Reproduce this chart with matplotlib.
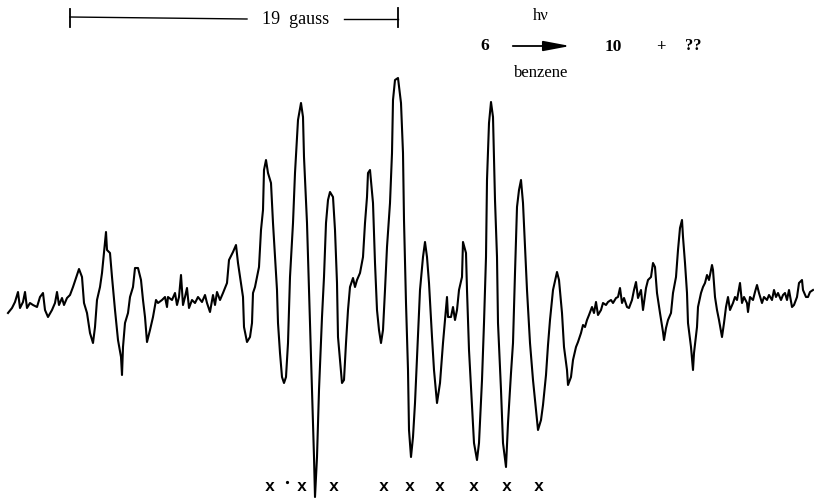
import matplotlib
matplotlib.use("Agg")
import matplotlib.pyplot as plt
import numpy as np

# ESR trace: field position (arbitrary units) and signal (arbitrary units)
field_a = [8,12,15,18,20,23,25,27,30,33,37,40,43,45,48,52,55,57,59,62,64,67,70,73,77,79,82,84,87,90,93,95,97,100,102,104,106,107,110,112,115,118,121,122]
signal_a = [-13,-8,-2,8,-8,-2,8,-8,-3,-5,-7,3,7,-10,-17,-10,-3,8,-5,2,-5,2,5,13,25,31,23,-3,-13,-33,-43,-27,0,13,27,47,68,50,47,23,-10,-40,-57,-75]

field_b = [123,125,128,130,133,135,138,141,143,145,147,150,153,156,158,162,165,167,168,172,175,177,179,181,183,185,187,189,192,195,198,202,205,207,210,213,215,217,220,223,227,229,233,236]
signal_b = [-47,-23,-13,3,13,32,32,20,0,-17,-42,-30,-17,0,-3,0,3,-7,3,0,7,-5,3,25,-5,3,12,-8,0,-3,3,-2,5,-3,-12,5,-5,8,0,7,17,40,48,55]

field_c = [238,241,243,244,247,250,252,253,255,257,259,261,263,264,266,268,271,273,275,277,278,280,282,284,286,288,290,293,295,298,301,303,304,307,309,311,313,314,315,317,319,322,324,326,328,330,333,335,337]
signal_c = [37,17,3,-27,-42,-37,-23,7,13,23,33,70,90,130,140,127,117,77,43,10,-23,-53,-77,-83,-77,-43,23,77,127,180,197,183,143,77,10,-57,-123,-157,-197,-157,-90,-17,23,77,100,108,103,70,17]

field_d = [338,340,342,344,346,348,350,353,355,357,360,363,365,367,368,370,373,375,377,379,381,383,385,387,390,392,393,395,398,401,403,404,406,408,409,411,413,415,417,420,423,425,427,429,432,434]
signal_d = [-37,-60,-83,-80,-43,-10,13,22,13,20,27,43,77,103,127,130,97,37,-10,-30,-43,-30,10,53,97,147,200,220,222,197,147,80,-3,-70,-130,-157,-137,-103,-57,10,43,58,43,17,-37,-70]

field_e = [437,440,443,445,447,448,451,453,455,457,459,462,463,466,467,469,472,474,477,479,482,484,486,487,489,491,493,494,495,497,498,501,503,506,508,511,513,515,517,519,521,523,525,527,530,533,536,538,541,543,546,548,550]
signal_e = [-103,-83,-43,-20,3,-17,-17,-7,-20,-10,10,23,58,47,10,-50,-107,-143,-160,-143,-80,-23,43,120,177,198,183,143,100,43,-23,-90,-143,-167,-123,-73,-43,27,93,110,120,97,53,10,-43,-80,-110,-130,-120,-105,-75,-45,-20]

field_f = [553,557,559,562,564,567,568,571,573,576,578,581,583,585,587,589,592,594,596,598,601,603,606,608,611,613,616,618,620,622,624,627,629,632,634,636,638,641,643,646,648,651,653,655,657,660,663,664,666,668,671,673,676,678,680]
signal_f = [10,28,20,-13,-47,-70,-85,-77,-60,-47,-42,-33,-25,-27,-20,-15,-7,-13,-2,-15,-10,-3,-5,-2,0,-3,2,3,12,-3,2,-7,-8,0,10,18,2,10,-10,12,20,23,37,33,7,-13,-32,-40,-28,-20,-13,7,23,50,72]

field_g = [682,683,685,687,688,691,693,694,697,698,701,703,705,707,709,712,713,715,717,719,722,724,726,728,730,733,735,737,740,742,744,747,748,750,753,755,757,759,762,764,767,769,772,774,776,778,781,783,785,787,789,792,794,797,799,802,803,806,808,810,813]
signal_g = [80,63,37,7,-23,-47,-70,-53,-27,-7,7,13,17,25,20,35,30,3,-10,-20,-37,-23,-7,3,-10,-3,3,0,17,-3,3,-3,-12,3,0,8,15,7,-3,3,0,5,0,10,3,7,0,5,7,0,10,-7,-5,3,17,20,10,3,3,8,10]

field = field_a + field_b + field_c + field_d + field_e + field_f + field_g
signal = signal_a + signal_b + signal_c + signal_d + signal_e + signal_f + signal_g

# positions of the "x" markers under the spectrum
marker_x = [270, 302, 334, 384, 410, 440, 474, 507, 539]

W, H = 814, 498
fig = plt.figure(figsize=(W / 100, H / 100), dpi=100)
fig.patch.set_facecolor("white")

ax = fig.add_axes([0, 0, 1, 1])
ax.plot(field, signal, color="black", lw=1.5, solid_joinstyle="round")
ax.set_xlim(0, W)
ax.set_ylim(300 - H, 300)
ax.axis("off")

# overlay for labels (page coordinates)
ov = fig.add_axes([0, 0, 1, 1], facecolor="none")
ov.set_xlim(0, W)
ov.set_ylim(H, 0)
ov.axis("off")

serif = "Liberation Serif"
# scale bar
ov.plot([70, 247], [17, 19], color="black", lw=1.0)
ov.plot([344, 398], [19, 19], color="black", lw=1.0)
ov.plot([70, 70], [9, 27], color="black", lw=1.3)
ov.plot([398, 398], [8, 27], color="black", lw=1.3)
ov.text(296, 19, "19  gauss", family=serif, fontsize=13, ha="center", va="center")

# reaction scheme
ov.text(485, 46, "6", family=serif, fontsize=12.5, fontweight="bold", ha="center", va="center")
ov.annotate("", xy=(573, 46), xytext=(510, 46),
            arrowprops=dict(arrowstyle="-|>,head_length=0.9,head_width=0.17",
                            color="black", lw=1.3, mutation_scale=18))
ov.text(541, 16, "hν", family=serif, fontsize=12, ha="center", va="center")
ov.text(541, 73, "benzene", family=serif, fontsize=12, ha="center", va="center")
ov.text(613, 47, "10", family=serif, fontsize=12.5, fontweight="bold", ha="center", va="center")
ov.text(661, 47, "+", family=serif, fontsize=12, fontweight="bold", ha="center", va="center")
ov.text(693, 46, "??", family=serif, fontsize=12, fontweight="bold", ha="center", va="center")

# markers
for mx in marker_x:
    ov.text(mx, 486, "x", family="Liberation Mono", fontsize=12, fontweight="bold",
            ha="center", va="center")
ov.plot([287], [482], marker="o", ms=1.3, color="black")

fig.savefig("out.png", dpi=100, facecolor="white")
